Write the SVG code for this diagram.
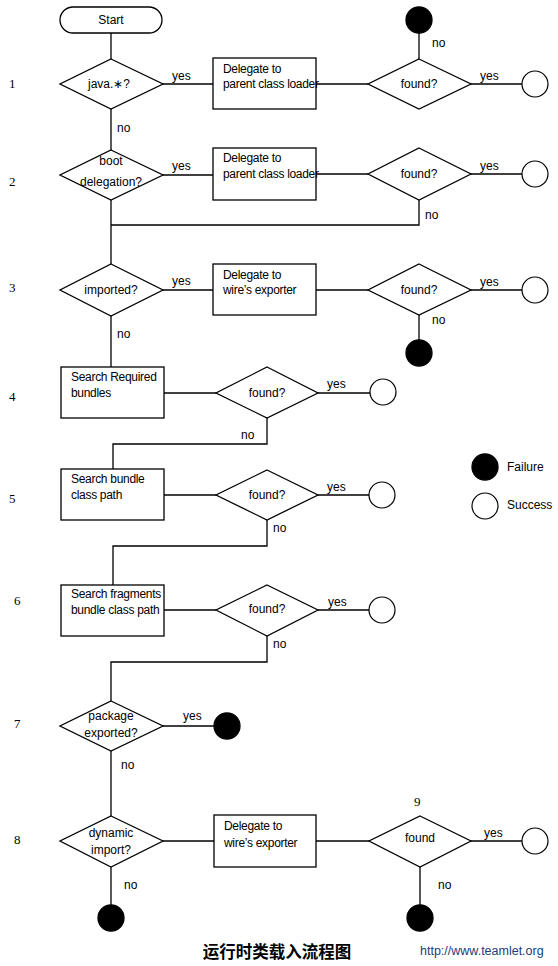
<svg xmlns="http://www.w3.org/2000/svg" width="558" height="966" viewBox="0 0 558 966">
<style>
  .bg{fill:#ffffff}
  .shape{fill:#ffffff;stroke:#000000;stroke-width:1.3}
  .fail{fill:#000000;stroke:#000000;stroke-width:1.3}
  .succ{fill:#ffffff;stroke:#000000;stroke-width:1.2}
  .conn line,.conn polyline{fill:none;stroke:#000000;stroke-width:1.3}
  text{font-family:"Liberation Sans",Arial,sans-serif;font-size:12px;fill:#000000}
  .c{text-anchor:middle}
  .bx{letter-spacing:-0.3px}
  .num{font-family:"Liberation Serif","Times New Roman",serif;font-size:13px}
  .title{font-family:"Noto Sans CJK SC",sans-serif;font-size:16.5px;font-weight:bold;text-anchor:middle}
  .url{font-size:12.5px;fill:#1e3c78}
</style>
<rect class="bg" x="0" y="0" width="558" height="966"/>

<g id="connectors" class="conn">
  <line x1="111" y1="33" x2="111" y2="59"/>
  <line x1="163" y1="84" x2="213" y2="84"/>
  <line x1="316" y1="84" x2="368" y2="84"/>
  <line x1="419" y1="33" x2="419" y2="59"/>
  <line x1="471" y1="84" x2="522" y2="84"/>
  <line x1="111" y1="109" x2="111" y2="150"/>
  <line x1="163" y1="175" x2="213" y2="175"/>
  <line x1="316" y1="174" x2="368" y2="174"/>
  <line x1="471" y1="174" x2="522" y2="174"/>
  <polyline points="419,200 419,225 111,225"/>
  <line x1="111" y1="200" x2="111" y2="264"/>
  <line x1="163" y1="290" x2="213" y2="290"/>
  <line x1="316" y1="290" x2="368" y2="290"/>
  <line x1="471" y1="290" x2="522" y2="290"/>
  <line x1="419" y1="315" x2="419" y2="340"/>
  <line x1="111" y1="316" x2="111" y2="367"/>
  <line x1="164" y1="393" x2="216" y2="393"/>
  <line x1="318" y1="393" x2="370" y2="393"/>
  <polyline points="267,418 267,444 113,444 113,469"/>
  <line x1="164" y1="495" x2="216" y2="495"/>
  <line x1="318" y1="495" x2="369" y2="495"/>
  <polyline points="267,520 267,546 113,546 113,585"/>
  <line x1="164" y1="610" x2="216" y2="610"/>
  <line x1="318" y1="610" x2="369" y2="610"/>
  <polyline points="267,636 267,662 111,662 111,701"/>
  <line x1="163" y1="726" x2="214" y2="726"/>
  <line x1="111" y1="751" x2="111" y2="816"/>
  <line x1="163" y1="841" x2="214" y2="841"/>
  <line x1="316" y1="841" x2="369" y2="841"/>
  <line x1="471" y1="841" x2="522" y2="841"/>
  <line x1="420" y1="867" x2="420" y2="905"/>
  <line x1="111" y1="867" x2="111" y2="905"/>
</g>

<g id="labels">
  <text x="172" y="80">yes</text>
  <text x="480" y="80">yes</text>
  <text x="432" y="47">no</text>
  <text x="117" y="132">no</text>
  <text x="172" y="170">yes</text>
  <text x="480" y="170">yes</text>
  <text x="425" y="219">no</text>
  <text x="172" y="285">yes</text>
  <text x="480" y="286">yes</text>
  <text x="432" y="324">no</text>
  <text x="117" y="338">no</text>
  <text x="327" y="388">yes</text>
  <text x="241" y="439">no</text>
  <text x="327" y="491">yes</text>
  <text x="273" y="532">no</text>
  <text x="328" y="606">yes</text>
  <text x="273" y="648">no</text>
  <text x="183" y="720">yes</text>
  <text x="121" y="769">no</text>
  <text x="484" y="837">yes</text>
  <text x="438" y="889">no</text>
  <text x="124" y="889">no</text>
</g>

<g id="row-numbers">
  <text class="num" x="9" y="88">1</text>
  <text class="num" x="9" y="186">2</text>
  <text class="num" x="9" y="292">3</text>
  <text class="num" x="9" y="401">4</text>
  <text class="num" x="9" y="503">5</text>
  <text class="num" x="14" y="605">6</text>
  <text class="num" x="14" y="728">7</text>
  <text class="num" x="14" y="844">8</text>
  <text class="num" x="414" y="806">9</text>
</g>

<g id="start">
  <rect class="shape" x="60" y="7" width="102" height="26" rx="13"/>
  <text class="c" x="111" y="24">Start</text>
</g>

<g id="d1">
  <polygon class="shape" points="111,59 163,84 111,109 60,84"/>
  <text class="c" x="109" y="88">java.∗?</text>
</g>
<g id="b1">
  <rect class="shape" x="213" y="58" width="103" height="51"/>
  <text class="bx" x="223" y="73">Delegate to</text>
  <text class="bx" x="223" y="88">parent class loader</text>
</g>
<g id="f1">
  <polygon class="shape" points="419,59 471,84 419,109 368,84"/>
  <text class="c" x="419" y="88">found?</text>
</g>
<g id="fail1"><circle class="fail" cx="419" cy="20" r="13"/></g>
<g id="succ1"><circle class="succ" cx="535" cy="84" r="13"/></g>

<g id="d2">
  <polygon class="shape" points="111,150 163,175 111,200 60,175"/>
  <text class="c" x="111" y="165">boot</text>
  <text class="c" x="111" y="186">delegation?</text>
</g>
<g id="b2">
  <rect class="shape" x="213" y="148" width="103" height="52"/>
  <text class="bx" x="223" y="162">Delegate to</text>
  <text class="bx" x="223" y="178">parent class loader</text>
</g>
<g id="f2">
  <polygon class="shape" points="419,148 471,174 419,200 368,174"/>
  <text class="c" x="419" y="178">found?</text>
</g>
<g id="succ2"><circle class="succ" cx="535" cy="174" r="13"/></g>

<g id="d3">
  <polygon class="shape" points="111,264 163,290 111,316 60,290"/>
  <text class="c" x="111" y="294">imported?</text>
</g>
<g id="b3">
  <rect class="shape" x="213" y="264" width="103" height="51"/>
  <text class="bx" x="223" y="279">Delegate to</text>
  <text class="bx" x="223" y="294">wire’s exporter</text>
</g>
<g id="f3">
  <polygon class="shape" points="419,264 471,290 419,315 368,290"/>
  <text class="c" x="419" y="294">found?</text>
</g>
<g id="succ3"><circle class="succ" cx="535" cy="290" r="13"/></g>
<g id="fail3"><circle class="fail" cx="419" cy="353" r="13"/></g>

<g id="b4">
  <rect class="shape" x="61" y="367" width="103" height="51"/>
  <text class="bx" x="71" y="381">Search Required</text>
  <text class="bx" x="71" y="397">bundles</text>
</g>
<g id="f4">
  <polygon class="shape" points="267,367 318,393 267,418 216,393"/>
  <text class="c" x="267" y="397">found?</text>
</g>
<g id="succ4"><circle class="succ" cx="383" cy="392" r="13"/></g>

<g id="b5">
  <rect class="shape" x="61" y="469" width="103" height="51"/>
  <text class="bx" x="71" y="483">Search bundle</text>
  <text class="bx" x="71" y="499">class path</text>
</g>
<g id="f5">
  <polygon class="shape" points="267,470 318,495 267,520 216,495"/>
  <text class="c" x="267" y="499">found?</text>
</g>
<g id="succ5"><circle class="succ" cx="382" cy="495" r="13"/></g>

<g id="b6">
  <rect class="shape" x="61" y="585" width="103" height="51"/>
  <text class="bx" x="71" y="598">Search fragments</text>
  <text class="bx" x="71" y="614">bundle class path</text>
</g>
<g id="f6">
  <polygon class="shape" points="267,585 318,610 267,636 216,610"/>
  <text class="c" x="267" y="613">found?</text>
</g>
<g id="succ6"><circle class="succ" cx="382" cy="610" r="13"/></g>

<g id="d7">
  <polygon class="shape" points="111,701 163,726 111,751 60,726"/>
  <text class="c" x="111" y="720">package</text>
  <text class="c" x="111" y="737">exported?</text>
</g>
<g id="fail7"><circle class="fail" cx="227" cy="726" r="13"/></g>

<g id="d8">
  <polygon class="shape" points="111,816 163,841 111,867 60,841"/>
  <text class="c" x="111" y="837">dynamic</text>
  <text class="c" x="111" y="854">import?</text>
</g>
<g id="b8">
  <rect class="shape" x="214" y="815" width="102" height="52"/>
  <text class="bx" x="224" y="830">Delegate to</text>
  <text class="bx" x="224" y="847">wire’s exporter</text>
</g>
<g id="f9">
  <polygon class="shape" points="420,816 471,841 420,867 369,841"/>
  <text class="c" x="420" y="842">found</text>
</g>
<g id="succ9"><circle class="succ" cx="535" cy="841" r="13"/></g>
<g id="fail9"><circle class="fail" cx="420" cy="918" r="13"/></g>
<g id="fail8"><circle class="fail" cx="111" cy="918" r="13"/></g>

<g id="legend">
  <circle class="fail" cx="485" cy="467" r="13"/>
  <text x="507" y="471">Failure</text>
  <circle class="succ" cx="485" cy="506" r="13"/>
  <text x="507" y="509">Success</text>
</g>

<g id="footer">
  <text class="title" x="277" y="958">运行时类载入流程图</text>
  <text class="url" x="420" y="955">http://www.teamlet.org</text>
</g>
</svg>
